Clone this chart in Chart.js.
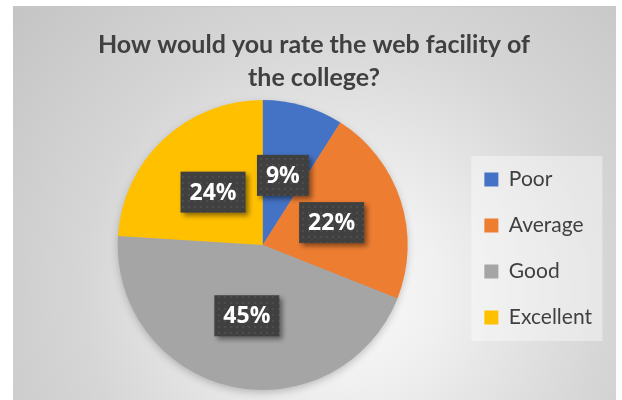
<!DOCTYPE html>
<html>
<head>
<meta charset="utf-8">
<script src="https://cdn.jsdelivr.net/npm/chart.js@4.4.1/dist/chart.umd.min.js"></script>
<style>
  html, body { margin: 0; padding: 0; background: #fff; }
  #wrap { position: relative; width: 622px; height: 400px; }
  #frame {
    position: absolute; left: 13px; top: 6px; width: 603px; height: 394px;
    background: radial-gradient(circle farthest-corner at 55% 72%, #fbfbfb 0%, #f0f0f0 22%, #d6d6d6 60%, #c4c4c4 100%);
    border-top: 1px solid #c8c8c8;
    box-sizing: border-box;
  }
  canvas { position: absolute; left: 0; top: 0; }
</style>
</head>
<body>
<div id="wrap">
  <div id="frame"></div>
  <canvas id="pieChart" width="622" height="400"></canvas>
</div>
<script>
// data
const ratings = ['Poor', 'Average', 'Good', 'Excellent'];
const shares = [9, 22, 45, 24];
const sliceColors = ['#4472C4', '#ED7D31', '#A5A5A5', '#FFC000'];
const chartTitle = ['How would you rate the web facility of', 'the college?'];

// dotted dark fill for the value boxes
function dotPattern(ctx) {
    let tile = document.createElement('canvas');
    tile.width = 6;
    tile.height = 6;
    let t = tile.getContext('2d');
    t.fillStyle = '#404040';
    t.fillRect(0, 0, 6, 6);
    t.fillStyle = '#4d4d4d';
    t.fillRect(2, 2, 2, 2);
    return ctx.createPattern(tile, 'repeat');
}

const pieShadow = {
    id: 'pieShadow',
    beforeDatasetsDraw(chart) {
        let arc = chart.getDatasetMeta(0).data[0];
        if (!arc) return;
        let ctx = chart.ctx;
        ctx.save();
        ctx.shadowColor = 'rgba(0,0,0,0.25)';
        ctx.shadowBlur = 8;
        ctx.shadowOffsetY = 3;
        ctx.fillStyle = '#a5a5a5';
        ctx.beginPath();
        ctx.arc(arc.x, arc.y, arc.outerRadius - 1, 0, Math.PI * 2);
        ctx.fill();
        ctx.restore();
    }
};

const valueBoxes = {
    id: 'valueBoxes',
    afterDatasetsDraw(chart) {
        let ctx = chart.ctx;
        let ds = chart.data.datasets[0];
        let total = ds.data.reduce((a, b) => a + b, 0);
        let fill = dotPattern(ctx);
        ctx.save();
        ctx.font = 'bold 23px "Open Sans"';
        ctx.textAlign = 'center';
        ctx.textBaseline = 'middle';
        chart.getDatasetMeta(0).data.forEach((arc, i) => {
            let pos = arc.tooltipPosition();
            let text = Math.round(ds.data[i] / total * 100) + '%';
            let w = ctx.measureText(text).width + 18;
            let h = 41;
            ctx.save();
            ctx.shadowColor = 'rgba(0,0,0,0.45)';
            ctx.shadowBlur = 5;
            ctx.shadowOffsetX = 3;
            ctx.shadowOffsetY = 3;
            ctx.fillStyle = fill;
            ctx.fillRect(pos.x - w / 2, pos.y - h / 2, w, h);
            ctx.restore();
            ctx.fillStyle = '#ffffff';
            ctx.fillText(text, pos.x, pos.y + 1);
        });
        ctx.restore();
    }
};

const legendPanel = {
    id: 'legendPanel',
    beforeDraw(chart) {
        let boxes = chart.legend && chart.legend.legendHitBoxes;
        if (!boxes || !boxes.length) return;
        let first = boxes[0], last = boxes[boxes.length - 1];
        let ctx = chart.ctx;
        ctx.save();
        ctx.fillStyle = 'rgba(255,255,255,0.4)';
        ctx.fillRect(first.left - 13, first.top - 13, 131, last.top + last.height - first.top + 26);
        ctx.restore();
    }
};

new Chart(document.getElementById('pieChart'), {
    type: 'pie',
    data: {
        labels: ratings,
        datasets: [{
            data: shares,
            backgroundColor: sliceColors,
            borderWidth: 0
        }]
    },
    options: {
        responsive: false,
        animation: false,
        rotation: 0,
        layout: {
            padding: { left: 26, right: 20, top: 0, bottom: 10 }
        },
        plugins: {
            title: {
                display: true,
                text: chartTitle,
                color: '#404040',
                font: { family: 'Lato', size: 25, weight: 'bold', lineHeight: 1.32 },
                padding: { top: 28, bottom: 6 }
            },
            // empty spacer on the left so the pie sits left of the title centre
            subtitle: {
                display: true,
                position: 'left',
                text: '',
                font: { size: 1, lineHeight: 1 },
                padding: { top: 39, bottom: 0 }
            },
            legend: {
                position: 'right',
                title: {
                    display: true,
                    text: '',
                    font: { size: 1, lineHeight: 1 },
                    padding: { top: 106, bottom: 0 }
                },
                labels: {
                    boxWidth: 14,
                    boxHeight: 14,
                    padding: 25,
                    color: '#404040',
                    font: { family: 'Lato', size: 21 }
                }
            },
            tooltip: { enabled: false }
        }
    },
    plugins: [legendPanel, pieShadow, valueBoxes]
});
</script>
</body>
</html>
